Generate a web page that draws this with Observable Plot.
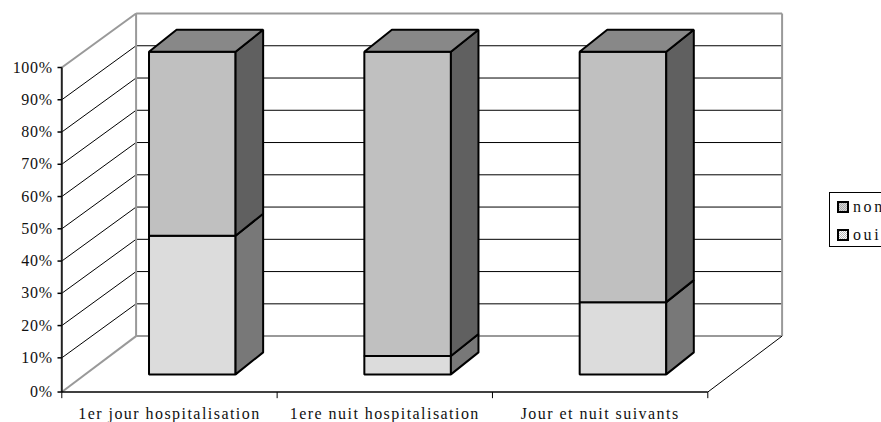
<!DOCTYPE html>
<html lang="fr">
<head>
<meta charset="utf-8">
<script src="https://cdn.jsdelivr.net/npm/d3@7"></script>
<script src="https://cdn.jsdelivr.net/npm/@observablehq/plot@0.6"></script>
<style>
html,body{margin:0;padding:0;background:#fff;overflow:hidden;width:881px;height:422px}
#chart{position:relative;width:881px;height:422px;overflow:hidden}
svg text{font-family:"Liberation Serif","Times New Roman",serif;fill:#111}
#legend{position:absolute;left:829px;top:192px;width:90px;height:55px;border:1px solid #000;box-sizing:border-box;font:16px "Liberation Serif",serif;letter-spacing:2.6px;color:#111;background:#fff}
#legend div{position:absolute;left:23px;white-space:nowrap;line-height:18px}
#legend svg{position:absolute;left:7px}
</style>
</head>
<body>
<div id="chart"></div>
<script>
const categories = ["1er jour hospitalisation", "1ere nuit hospitalisation", "Jour et nuit suivants"];
const oui = [43, 5.7, 22.4];
const non = [57, 94.3, 77.6];
const tickValues = [0, 10, 20, 30, 40, 50, 60, 70, 80, 90, 100];
const slotEdges = [0, 1, 2, 3];
const legendLabels = ["non", "oui"];

// 3D box geometry, in scale units: slots on x, percent on y.
const wall = {x: 0.345, y: 16.74};
const barFront = {x: 0.405, y: 4.87, width: 0.402};
const barSide = {x: 0.128, y: 6.82};
const axisFloor = -0.6;
const at = t => t === 0 ? axisFloor : t;

function faces(i, lo, hi, key) {
  const x0 = i + barFront.x, x1 = x0 + barFront.width;
  const y0 = lo + barFront.y, y1 = hi + barFront.y;
  const sx = barSide.x, sy = barSide.y;
  const out = {
    front: [[x0, y0], [x1, y0], [x1, y1], [x0, y1]],
    side: [[x1, y0], [x1 + sx, y0 + sy], [x1 + sx, y1 + sy], [x1, y1]],
    top: [[x0, y1], [x1, y1], [x1 + sx, y1 + sy], [x0 + sx, y1 + sy]]
  };
  return Object.entries(out).flatMap(([face, pts]) =>
    pts.map(([x, y]) => ({x, y, face, key, id: `${key}-${i}-${face}`})));
}
const points = categories.flatMap((c, i) => [
  ...faces(i, 0, oui[i], "oui"),
  ...faces(i, oui[i], oui[i] + non[i], "non")
]);
const pick = (key, face) => points.filter(d => d.key === key && d.face === face);
const faceMark = (key, face, fill) => Plot.line(pick(key, face), {
  x: "x", y: "y", z: "id", curve: "linear-closed", fill, stroke: "#000", strokeWidth: 2, strokeLinejoin: "miter"
});
const seg = (x1, y1, x2, y2, stroke, strokeWidth) => Plot.link([0], {
  x1: () => x1, y1: () => y1, x2: () => x2, y2: () => y2, stroke, strokeWidth
});

const P = (id, bg, fg) =>
  `<pattern id="${id}" width="2" height="2" patternUnits="userSpaceOnUse">` +
  `<rect width="2" height="2" fill="${bg}"/>` +
  `<rect width="1" height="1" fill="${fg}"/><rect x="1" y="1" width="1" height="1" fill="${fg}"/>` +
  `</pattern>`;
const patternDefs =
  P("nonFront", "#d8d8d8", "#a8a8a8") +
  P("nonSide", "#707070", "#505050") +
  P("nonTop", "#a0a0a0", "#707070") +
  P("ouiFront", "#ffffff", "#b8b8b8") +
  P("ouiSide", "#a0a0a0", "#505050");
const defsMark = () => d3.create("svg:defs").html(patternDefs).node();

const wallGray = "#999999";
const inner = tickValues.filter(t => t > 0 && t < 100);
const plot = Plot.plot({
  width: 881, height: 422, margin: 0,
  style: {background: "transparent", overflow: "hidden"},
  x: {type: "linear", domain: [0, 3], range: [61.3, 707.3], axis: null},
  y: {type: "linear", domain: [0, 100], range: [389.6, 67], axis: null},
  marks: [
    defsMark,
    // gridlines: left wall diagonals and back wall horizontals
    Plot.link(inner, {x1: () => 0, y1: t => t, x2: () => wall.x, y2: t => t + wall.y, stroke: "#000", strokeWidth: 1}),
    Plot.link(inner, {x1: () => wall.x, y1: t => t + wall.y, x2: () => 3 + wall.x, y2: t => t + wall.y, stroke: "#000", strokeWidth: 1}),
    // back wall frame
    seg(wall.x, wall.y, 3 + wall.x, wall.y, wallGray, 2),
    seg(wall.x, 100 + wall.y, 3 + wall.x, 100 + wall.y, wallGray, 2),
    seg(wall.x, wall.y, wall.x, 100 + wall.y, wallGray, 2),
    seg(3 + wall.x, wall.y, 3 + wall.x, 100 + wall.y, wallGray, 2),
    // left wall edges
    seg(0, 100, wall.x, 100 + wall.y, wallGray, 2),
    seg(0, axisFloor, wall.x, wall.y, wallGray, 2),
    // floor right edge
    seg(3, axisFloor, 3 + wall.x, wall.y, "#000", 1),
    // bars
    faceMark("oui", "front", "url(#ouiFront)"),
    faceMark("oui", "side", "url(#ouiSide)"),
    faceMark("non", "front", "url(#nonFront)"),
    faceMark("non", "side", "url(#nonSide)"),
    faceMark("non", "top", "url(#nonTop)"),
    // axes
    seg(0, axisFloor, 0, 100, "#222", 2),
    seg(0, axisFloor, 3, axisFloor, "#000", 1.5),
    Plot.link(tickValues, {x1: () => -0.02, y1: at, x2: () => 0, y2: at, stroke: "#000", strokeWidth: 1.5}),
    Plot.text(tickValues, {
      x: () => 0, y: at, text: t => `${t}%`, dx: -9, textAnchor: "end", fontSize: 16, lineAnchor: "middle"
    }),
    Plot.link(slotEdges, {x1: d => d, y1: () => axisFloor, x2: d => d, y2: () => axisFloor - 1.9, stroke: "#000", strokeWidth: 1}),
    Plot.text(categories, {
      x: (d, i) => i + 0.5, y: () => axisFloor, text: d => d, dy: 22, fontSize: 16, lineAnchor: "middle", textAnchor: "middle"
    })
  ]
});
d3.select(plot).selectAll("text").style("letter-spacing", function () {
  return this.textContent.endsWith("%") ? "0.7px" : "1.45px";
});
document.getElementById("chart").appendChild(plot);

const legend = document.createElement("div");
legend.id = "legend";
legend.innerHTML = legendLabels.map((label, i) => {
  const fill = i === 0 ? "url(#nonFront)" : "url(#ouiFront)";
  const top = i === 0 ? 8 : 36;
  return `<svg width="12" height="12" style="top:${top}px"><rect x="1" y="1" width="10" height="10" fill="${fill}" stroke="#000" stroke-width="2"/></svg>` +
         `<div style="top:${top - 3}px">${label}</div>`;
}).join("");
document.getElementById("chart").appendChild(legend);
</script>
</body>
</html>
